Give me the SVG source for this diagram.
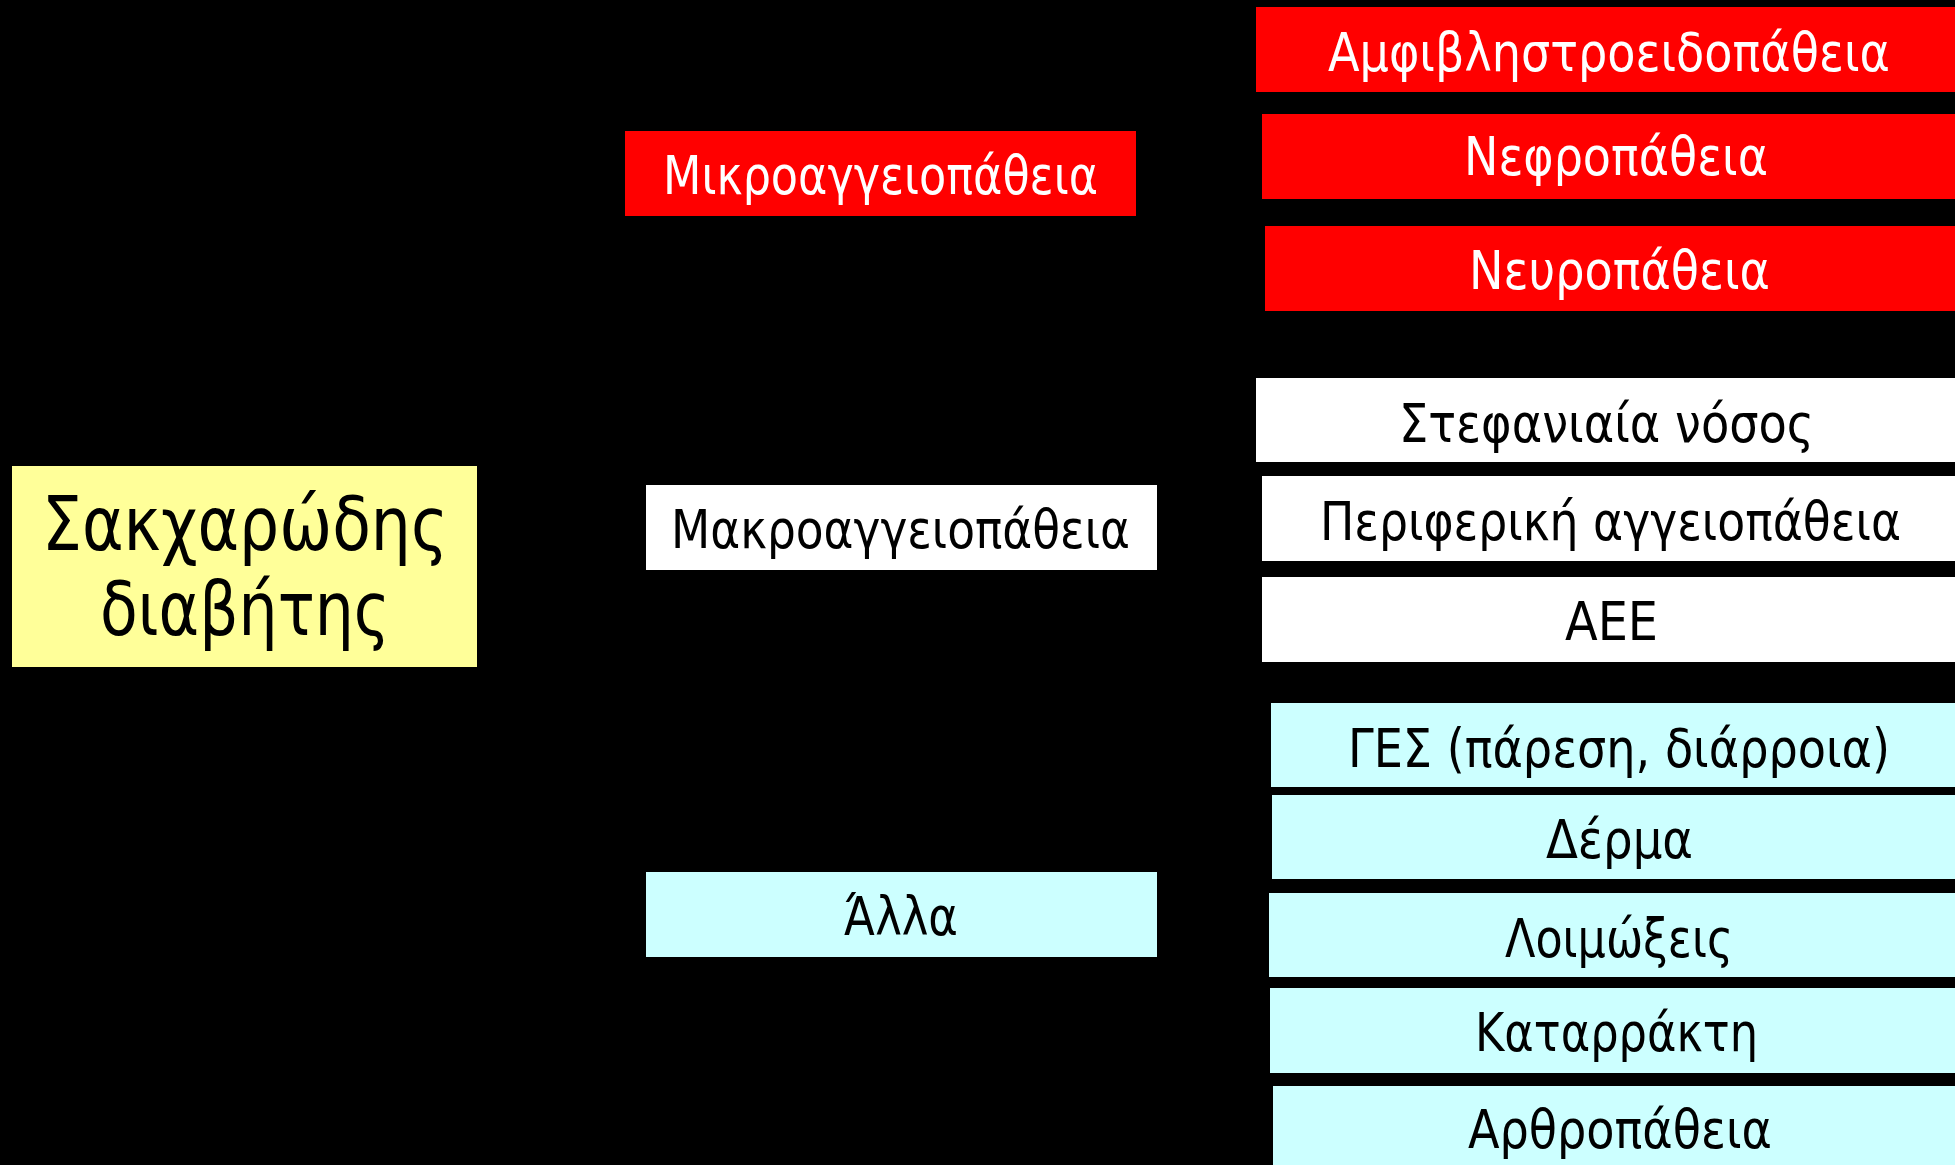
<svg xmlns="http://www.w3.org/2000/svg" width="1955" height="1165" viewBox="0 0 1955 1165">
<style>
text{font-family:"DejaVu Sans Condensed","DejaVu Sans",sans-serif;font-stretch:condensed;text-anchor:middle;font-size:53px}
.red rect{fill:#FF0000}.red text{fill:#FFFFFF}
.wht rect{fill:#FFFFFF}.wht text{fill:#000000}
.cyn rect{fill:#CCFFFF}.cyn text{fill:#000000}
.yel rect{fill:#FFFF99}.yel text{fill:#000000;font-size:74px}
</style>
<rect x="0" y="0" width="1955" height="1165" fill="#000000"/>
<g id="connectors"></g>
<g id="root" class="yel"><rect x="12" y="466" width="465" height="201"/><text x="245" y="550" textLength="406" lengthAdjust="spacingAndGlyphs">Σακχαρώδης</text><text x="245" y="635" textLength="290" lengthAdjust="spacingAndGlyphs">διαβήτης</text></g>
<g id="micro" class="red"><rect x="625" y="131" width="511" height="85"/><text x="880.5" y="194" textLength="435" lengthAdjust="spacingAndGlyphs">Μικροαγγειοπάθεια</text></g>
<g id="macro" class="wht"><rect x="646" y="485" width="511" height="85"/><text x="900.5" y="548" textLength="459" lengthAdjust="spacingAndGlyphs">Μακροαγγειοπάθεια</text></g>
<g id="other" class="cyn"><rect x="646" y="872" width="511" height="85"/><text x="901" y="935" textLength="114" lengthAdjust="spacingAndGlyphs">Άλλα</text></g>
<g id="retino" class="red"><rect x="1256" y="7" width="710" height="85"/><text x="1609" y="71" textLength="562" lengthAdjust="spacingAndGlyphs">Αμφιβληστροειδοπάθεια</text></g>
<g id="nephro" class="red"><rect x="1262" y="114" width="710" height="85"/><text x="1616" y="175" textLength="304" lengthAdjust="spacingAndGlyphs">Νεφροπάθεια</text></g>
<g id="neuro" class="red"><rect x="1265" y="226" width="710" height="85"/><text x="1619.5" y="289" textLength="301" lengthAdjust="spacingAndGlyphs">Νευροπάθεια</text></g>
<g id="coronary" class="wht"><rect x="1256" y="378" width="710" height="84"/><text x="1606.5" y="442" textLength="415" lengthAdjust="spacingAndGlyphs">Στεφανιαία νόσος</text></g>
<g id="peripheral" class="wht"><rect x="1262" y="476" width="710" height="85"/><text x="1610.5" y="540" textLength="581" lengthAdjust="spacingAndGlyphs">Περιφερική αγγειοπάθεια</text></g>
<g id="stroke" class="wht"><rect x="1262" y="577" width="710" height="85"/><text x="1611.5" y="640" textLength="93" lengthAdjust="spacingAndGlyphs">ΑΕΕ</text></g>
<g id="gi" class="cyn"><rect x="1271" y="703" width="710" height="84"/><text x="1619" y="767" textLength="542" lengthAdjust="spacingAndGlyphs">ΓΕΣ (πάρεση, διάρροια)</text></g>
<g id="skin" class="cyn"><rect x="1272" y="795" width="710" height="84"/><text x="1619.5" y="858" textLength="147" lengthAdjust="spacingAndGlyphs">Δέρμα</text></g>
<g id="infections" class="cyn"><rect x="1269" y="893" width="710" height="84"/><text x="1619" y="957" textLength="228" lengthAdjust="spacingAndGlyphs">Λοιμώξεις</text></g>
<g id="cataract" class="cyn"><rect x="1270" y="988" width="710" height="85"/><text x="1616.5" y="1051" textLength="283" lengthAdjust="spacingAndGlyphs">Καταρράκτη</text></g>
<g id="arthro" class="cyn"><rect x="1273" y="1086" width="710" height="85"/><text x="1620" y="1148" textLength="304" lengthAdjust="spacingAndGlyphs">Αρθροπάθεια</text></g>
</svg>
